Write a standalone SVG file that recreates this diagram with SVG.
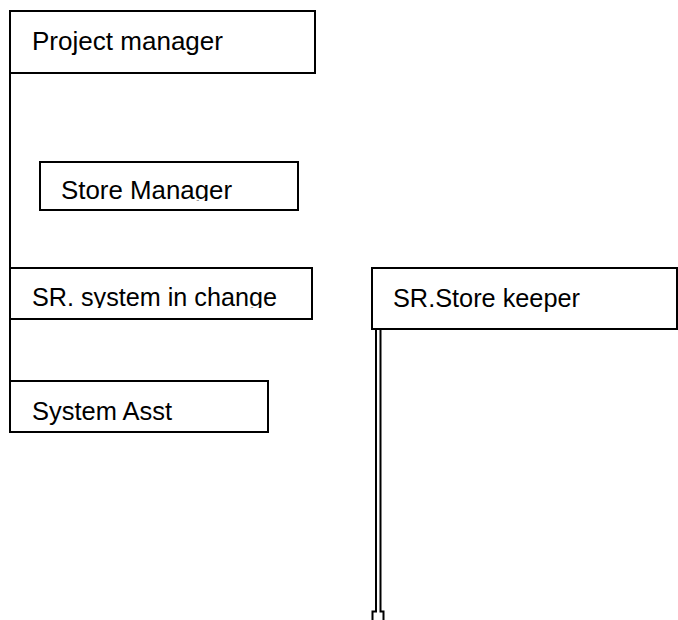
<svg xmlns="http://www.w3.org/2000/svg" width="678" height="620" viewBox="0 0 678 620">
<style>
.box{fill:#fff;stroke:#000;stroke-width:2}
.t{font-family:"Liberation Sans",Arial,sans-serif;font-size:26px;fill:#000}
.ln{fill:none;stroke:#000;stroke-width:2}
</style>
<defs>
<clipPath id="c1"><rect x="40" y="162" width="258" height="39"/></clipPath>
<clipPath id="c2"><rect x="10" y="268" width="302" height="40"/></clipPath>
</defs>
<rect width="678" height="620" fill="#fff"/>
<g id="connectors">
<line class="ln" x1="10" y1="73" x2="10" y2="381"/>
<path class="ln" d="M376,330 V611.5 H372.5 V620"/>
<path class="ln" d="M380.5,330 V611.5 H383.5 V620"/>
</g>
<g id="project-manager">
<rect class="box" x="10" y="11" width="305" height="62"/>
<text class="t" x="32" y="50" textLength="191" lengthAdjust="spacingAndGlyphs">Project manager</text>
</g>
<g id="store-manager">
<rect class="box" x="40" y="162" width="258" height="48"/>
<text class="t" x="61" y="199" textLength="171" lengthAdjust="spacingAndGlyphs" clip-path="url(#c1)">Store Manager</text>
</g>
<g id="sr-system">
<rect class="box" x="10" y="268" width="302" height="51"/>
<text class="t" x="32" y="306" textLength="245" lengthAdjust="spacingAndGlyphs" clip-path="url(#c2)">SR. system in change</text>
</g>
<g id="system-asst">
<rect class="box" x="10" y="381" width="258" height="51"/>
<text class="t" x="32" y="420" textLength="140" lengthAdjust="spacingAndGlyphs">System Asst</text>
</g>
<g id="sr-store-keeper">
<rect class="box" x="372" y="268" width="305" height="61"/>
<text class="t" x="393" y="307" textLength="187" lengthAdjust="spacingAndGlyphs">SR.Store keeper</text>
</g>
</svg>
